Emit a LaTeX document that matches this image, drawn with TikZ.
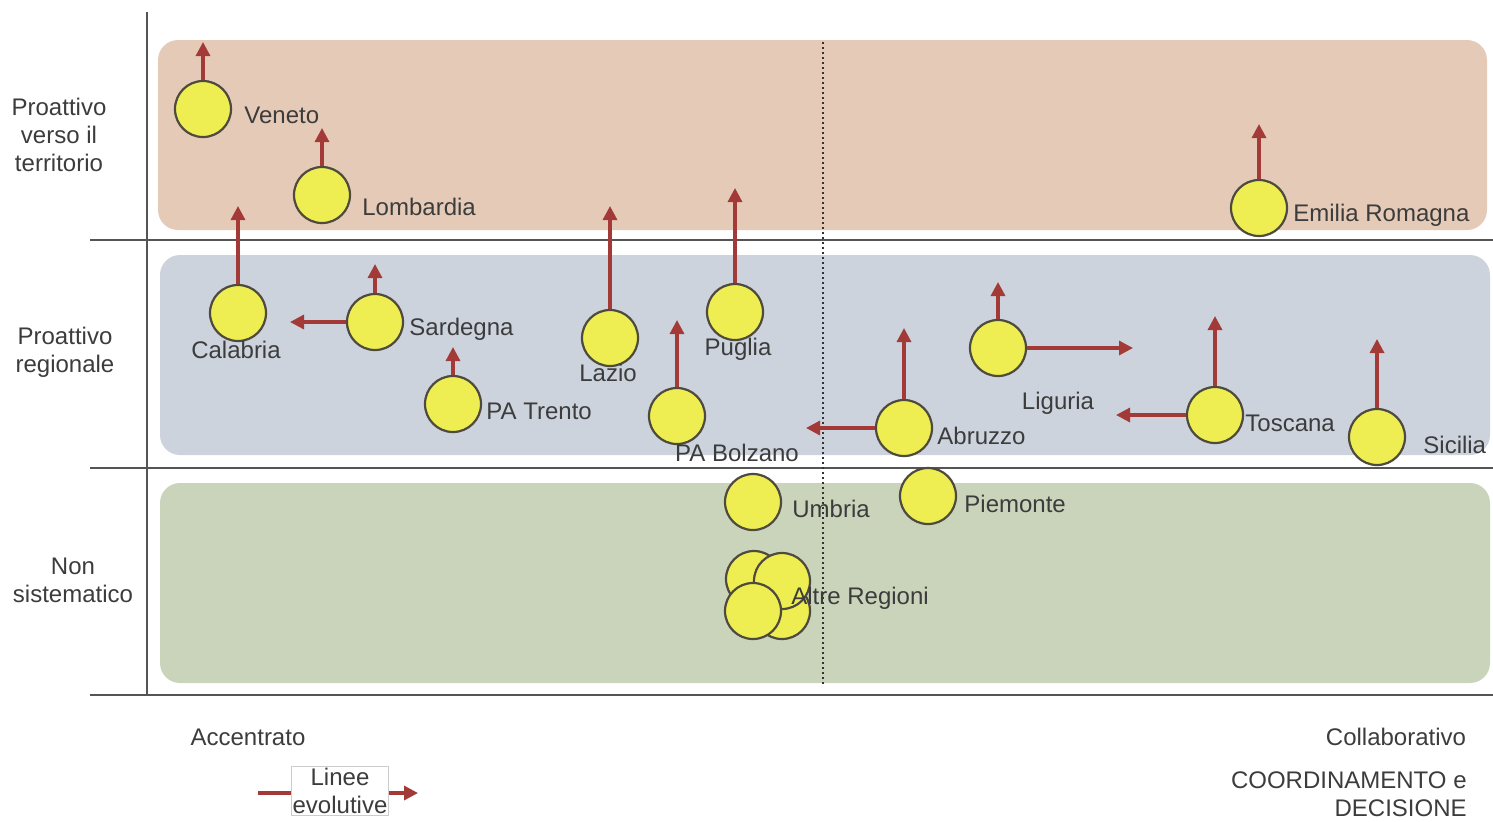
\documentclass[tikz,border=0pt]{standalone}
\usepackage{fontspec}
\setmainfont{Liberation Sans}
\usetikzlibrary{arrows.meta}
\definecolor{peach}{HTML}{E5CBB7}
\definecolor{bluegrey}{HTML}{CCD3DD}
\definecolor{greengrey}{HTML}{C9D4BB}
\definecolor{yel}{HTML}{EEEE52}
\definecolor{evored}{HTML}{A33A37}
\definecolor{txt}{HTML}{3C3C3C}
\definecolor{axis}{HTML}{555555}
\tikzset{
  region/.style={circle, draw=black!80!yellow, line width=1.1pt, fill=yel, minimum size=28pt, inner sep=0pt},
  lbl/.style={font=\fontsize{12}{14}\selectfont, text=txt, inner sep=0pt},
  lblw/.style={lbl, anchor=west},
  evo/.style={draw=evored, line width=1.6pt, -{Triangle[length=7pt,width=7pt]}},
  band/.style={rounded corners=10pt, draw=none},
  axisline/.style={draw=axis, line width=1pt},
}
\begin{document}
\begin{tikzpicture}[x=0.5pt,y=-0.5pt]
\useasboundingbox (0,0) rectangle (1493,821);
% bands
\fill[band, peach] (158,40) rectangle (1487,230);
\fill[band, bluegrey] (160,255) rectangle (1490,455);
\fill[band, greengrey] (160,483) rectangle (1490,683);
% axes
\coordinate (va) at (147,12);
\coordinate (vb) at (147,695);
\draw[axisline] (va) -- (vb);
\coordinate (h1a) at (90,240); \coordinate (h1b) at (1493,240);
\coordinate (h2a) at (90,468); \coordinate (h2b) at (1493,468);
\coordinate (h3a) at (90,695); \coordinate (h3b) at (1493,695);
\draw[axisline] (h1a) -- (h1b);
\draw[axisline] (h2a) -- (h2b);
\draw[axisline] (h3a) -- (h3b);
\coordinate (da) at (823,42); \coordinate (db) at (823,686);
\draw[black!80, line width=0.9pt, dash pattern=on 1pt off 1.5pt] (da) -- (db);
% left labels
\node[lbl, align=center] (l1) at (59,135) {Proattivo\\verso il\\territorio};
\node[lbl, align=center] (l2) at (65,352) {Proattivo\\regionale};
\node[lbl, align=center] (l3) at (73,580) {Non\\sistematico};
% bottom labels
\node[lbl] (acc) at (248,737) {Accentrato};
\node[lbl] (col) at (1396,737) {Collaborativo};
\node[lbl, align=right, anchor=north east] (coord) at (1467,771) {COORDINAMENTO e\\DECISIONE};
% legend
\node[lbl, align=center, draw=black!20, fill=white, inner xsep=0.5pt, inner ysep=1pt] (leg) at (340,791) {Linee\\evolutive};
\coordinate (lega) at (258,793);
\coordinate (legb) at (418,793);
\draw[draw=evored, line width=1.6pt] (lega) -- (leg.west |- lega);
\draw[evo] (leg.east |- legb) -- (legb);
% regions
\node[region] (ven) at (203,109) {};
\node[lblw] at (244,115) {Veneto};
\coordinate (venu) at (203,42);
\draw[evo] (ven.north) -- (venu);

\node[region] (lom) at (322,195) {};
\node[lblw] at (362,207) {Lombardia};
\coordinate (lomu) at (322,128);
\draw[evo] (lom.north) -- (lomu);

\node[region] (cal) at (238,313) {};
\node[lbl] at (236,350) {Calabria};
\coordinate (calu) at (238,206);
\draw[evo] (cal.north) -- (calu);

\node[region] (sar) at (375,322) {};
\node[lblw] at (409,329) {Sardegna};
\coordinate (saru) at (375,264);
\coordinate (sarl) at (290,322);
\draw[evo] (sar.north) -- (saru);
\draw[evo] (sar.west) -- (sarl);

\node[region] (tre) at (453,404) {};
\node[lblw] at (486,411) {PA Trento};
\coordinate (treu) at (453,347);
\draw[evo] (tre.north) -- (treu);

\node[region] (laz) at (610,338) {};
\coordinate (lazu) at (610,206);
\draw[evo] (laz.north) -- (lazu);

\node[region] (pug) at (735,312) {};
\coordinate (pugu) at (735,188);
\draw[evo] (pug.north) -- (pugu);

\node[region] (bol) at (677,416) {};
\coordinate (bolu) at (677,320);
\draw[evo] (bol.north) -- (bolu);

\node[region] (abr) at (904,428) {};
\coordinate (abru) at (904,328);
\coordinate (abrl) at (806,428);
\draw[evo] (abr.north) -- (abru);
\draw[evo] (abr.west) -- (abrl);

\node[region] (lig) at (998,348) {};
\coordinate (ligu) at (998,282);
\coordinate (ligr) at (1133,348);
\draw[evo] (lig.north) -- (ligu);
\draw[evo] (lig.east) -- (ligr);

\node[region] (tos) at (1215,415) {};
\coordinate (tosu) at (1215,316);
\coordinate (tosl) at (1116,415);
\draw[evo] (tos.north) -- (tosu);
\draw[evo] (tos.west) -- (tosl);

\node[region] (sic) at (1377,437) {};
\coordinate (sicu) at (1377,339);
\draw[evo] (sic.north) -- (sicu);

\node[region] (emi) at (1259,208) {};
\coordinate (emiu) at (1259,124);
\draw[evo] (emi.north) -- (emiu);

\node[region] (umb) at (753,502) {};
\node[region] (pie) at (928,496) {};

\node[region] (alt4) at (782,611) {};
\node[region] (alt1) at (754,579) {};
\node[region] (alt2) at (782,581) {};
\node[region] (alt3) at (753,611) {};

% labels drawn over
\node[lbl] at (608,373) {Lazio};
\node[lbl] at (738,349) {Puglia};
\node[lbl] at (737,453) {PA Bolzano};
\node[lblw] at (937,436) {Abruzzo};
\node[lbl] at (1058,403) {Liguria};
\node[lblw] at (1245,423) {Toscana};
\node[lblw] at (1423,445) {Sicilia};
\node[lblw] at (1293,215) {Emilia Romagna};
\node[lblw] at (792,509) {Umbria};
\node[lblw] at (964,504) {Piemonte};
\node[lblw] at (791,598) {Altre Regioni};
\end{tikzpicture}
\end{document}
